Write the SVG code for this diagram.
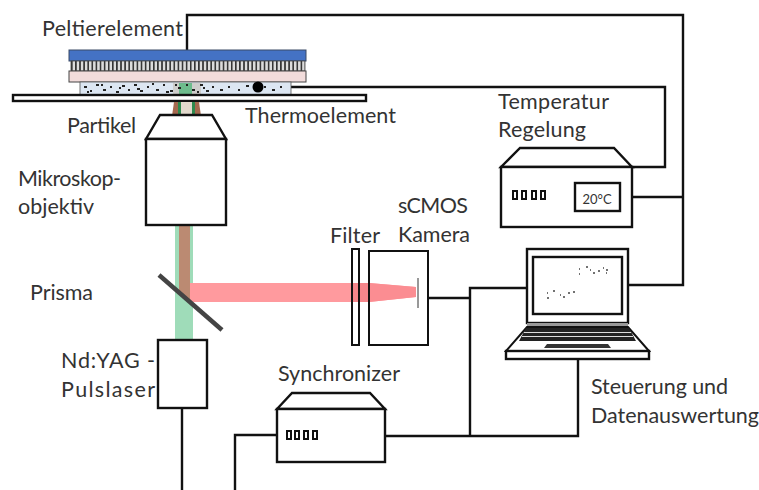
<svg xmlns="http://www.w3.org/2000/svg" width="759" height="490" viewBox="0 0 759 490">
<style>
text{font-family:Lato,"Liberation Sans",sans-serif;font-size:21.5px;fill:#333}
.k{fill:#fff;stroke:#111;stroke-width:2.4}
.w{fill:none;stroke:#111;stroke-width:2.4}
.b{fill:#fff;stroke:#111;stroke-width:2}
</style>
<defs>
<pattern id="ridge" width="4.1" height="10" patternUnits="userSpaceOnUse" x="71"><rect width="4.1" height="10" fill="#dcdcdc"/><rect width="1.6" height="10" fill="#333"/></pattern>
<g id="btn"><rect class="b" x="0" y="0" width="4" height="8"/></g>
</defs>
<rect width="759" height="490" fill="#fff"/>
<g id="connectors">
<path class="w" d="M187 50V15H683V285H628M632 197H683M632 167H665V87H260M428 298H470M470 436V288H527M385 436H578V360M277 435H235V490M182 408V490"/>
</g>
<g id="peltierelement">
<rect x="69" y="50" width="237" height="11" fill="#4472c4" stroke="#3a4a66"/>
<rect x="71" y="61" width="234" height="10" fill="url(#ridge)" stroke="#444" stroke-width=".8"/>
<rect x="69" y="71" width="237" height="11" fill="#f2dcdb" stroke="#444"/>
</g>
<g id="probe">
<rect x="80" y="82" width="211" height="13" fill="#dce6f2" stroke="#555" stroke-width=".8"/>
<rect x="173" y="83" width="28" height="12" fill="#c4bdb0" fill-opacity=".6"/>
<rect x="179" y="83" width="13" height="12" fill="#6dbb8c"/>
<path d="M84 87h3M90 91h2M96 85h3M103 90h3M110 87h2M116 92h3M122 86h3M128 90h2M134 85h3M140 91h3M147 87h2M156 90h3M163 85h2M170 91h3M178 88h3M186 85h2M192 90h3M200 85h3M206 91h3M212 87h2M220 90h3M228 87h2M238 90h2M246 86h3M264 87h2M272 90h3M280 87h2M87 92h2M101 85h2M119 88h2M137 89h3M152 84h2M166 92h3M175 85h2M197 92h2M203 88h2" stroke="#222" stroke-width="2" fill="none"/>
</g>
<g id="thermoelement"><circle cx="258" cy="87" r="5.500" fill="#000"/></g>
<g id="platte"><rect class="k" x="13" y="95" width="353" height="6"/></g>
<g id="beams">
<path d="M174 102h25l2 14h-29z" fill="#a5694f"/>
<path d="M178 102h17v14h-17z" fill="#2f8a4e"/>
<path d="M181 102h11v14h-11z" fill="#e2d9cc"/>
<rect x="175" y="225" width="18" height="115" fill="#9fdcb9"/>
<path d="M179 225H190V302L179 292z" fill="#bb8a72"/>
<path d="M190 283H369L416 287V297L369 302H190z" fill="#ff9a9e"/>
<rect x="352" y="283" width="17" height="19" fill="#f5868b"/>
<path d="M369 283L416 287V297L369 302z" fill="#fb8d92"/>
</g>
<g id="objektiv">
<path class="k" d="M146 139L160 115H212L226 139z"/>
<rect class="k" x="146" y="139" width="80" height="86"/>
</g>
<g id="prisma"><line x1="159" y1="275" x2="222" y2="330" stroke="#444" stroke-width="4.500"/></g>
<g id="laser"><rect class="k" x="158" y="340" width="49" height="68"/></g>
<g id="filter"><rect x="352" y="249" width="7" height="96" fill="none" stroke="#111" stroke-width="2"/></g>
<g id="kamera"><rect x="369" y="251" width="59" height="94" fill="none" stroke="#111" stroke-width="2"/><line x1="418" y1="278" x2="418" y2="308" stroke="#333"/></g>
<g id="temperatur">
<path class="k" d="M501 167L520 148H614L632 167z"/>
<rect class="k" x="501" y="167" width="131" height="60"/>
<use href="#btn" x="513" y="191"/><use href="#btn" x="522" y="191"/><use href="#btn" x="532" y="191"/><use href="#btn" x="541" y="191"/>
<rect class="k" x="575" y="183" width="45" height="28"/>
<text x="597" y="204" text-anchor="middle" style="font-size:13px">20°C</text>
</g>
<g id="synchronizer">
<path class="k" d="M277 409L292 393H370L385 409z"/>
<rect class="k" x="277" y="409" width="108" height="53"/>
<use href="#btn" x="287" y="431"/><use href="#btn" x="295" y="431"/><use href="#btn" x="304" y="431"/><use href="#btn" x="313" y="431"/>
</g>
<g id="laptop">
<rect class="k" x="527" y="249" width="101" height="74"/>
<rect class="k" x="533" y="257" width="89" height="57"/>
<path d="M527 323H628V327H527z" fill="#999"/>
<path d="M527 327H628L649 351H506z" fill="#fff" stroke="#111" stroke-width="2"/>
<path d="M526 328H629L636 341H519z" fill="#222"/>
<path d="M524 332.500H631M522 336.500H633" stroke="#ddd" stroke-width="1"/>
<path d="M547 344H608L611 348H544z" fill="#333"/>
<rect class="k" x="506" y="351" width="143" height="8"/>
<path d="M579 269h1M586 267h2M590 270h1M593 273h2M598 271h2M603 268h1M606 270h2M579 274h1M606 273h1M547 293h1M553 291h2M560 295h1M563 297h2M568 293h2M573 292h2M547 298h2" stroke="#444" stroke-width="1.500"/>
</g>
<g id="labels">
<text x="42" y="36" textLength="141">Peltierelement</text>
<text x="245" y="123" textLength="151">Thermoelement</text>
<text x="67" y="133" textLength="69">Partikel</text>
<text x="18" y="186" textLength="103">Mikroskop-</text>
<text x="18" y="214" textLength="76">objektiv</text>
<text x="30" y="300" textLength="63">Prisma</text>
<text x="330" y="243" textLength="50">Filter</text>
<text x="398" y="213" textLength="70">sCMOS</text>
<text x="398" y="242" textLength="72">Kamera</text>
<text x="61" y="368" textLength="94">Nd:YAG -</text>
<text x="61" y="397" textLength="94">Pulslaser</text>
<text x="278" y="381" textLength="122">Synchronizer</text>
<text x="498" y="109" textLength="111">Temperatur</text>
<text x="498" y="137" textLength="88">Regelung</text>
<text x="591" y="394" textLength="137">Steuerung und</text>
<text x="591" y="423" textLength="168">Datenauswertung</text>
</g>
</svg>
